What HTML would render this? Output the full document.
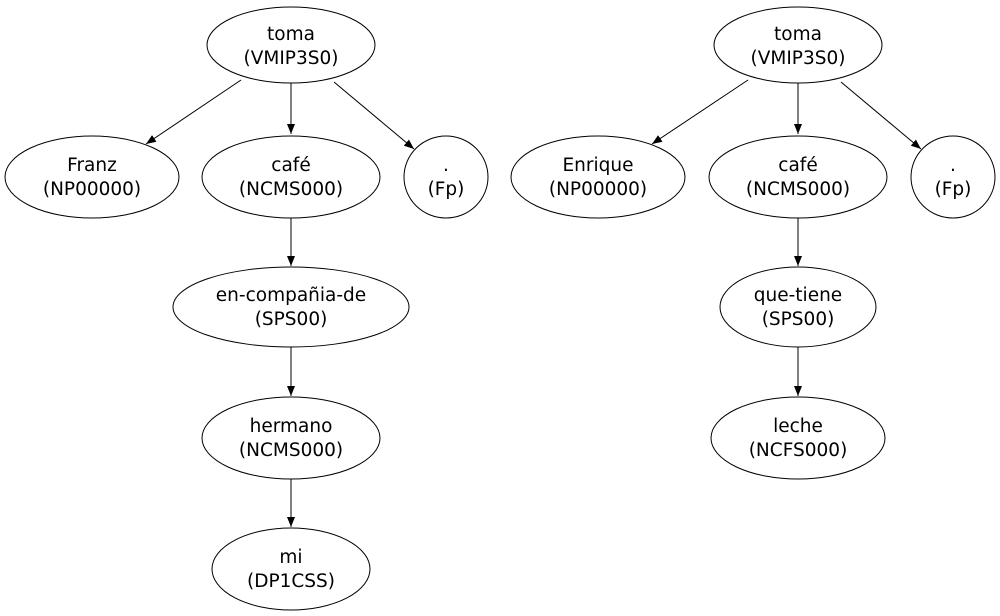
<!DOCTYPE html>
<html><head><meta charset="utf-8"><style>
html,body{margin:0;padding:0;background:#fff;}
svg{display:block;}
text{font-family:"DejaVu Sans","Liberation Sans",sans-serif;font-size:18.5px;fill:#000;text-anchor:middle;}
ellipse{fill:none;stroke:#000;stroke-width:1;}
line{stroke:#000;stroke-width:1;}
</style></head><body>
<svg width="1000" height="616" viewBox="0 0 1000 616" xmlns="http://www.w3.org/2000/svg">
<defs><marker id="a" markerWidth="10" markerHeight="8" refX="10" refY="4" orient="auto" markerUnits="userSpaceOnUse"><path d="M0,0 L10,4 L0,8 z" fill="#000"/></marker></defs>
<g transform="translate(0,1)">
<ellipse cx="291" cy="44" rx="84" ry="38"/><text x="291" y="39">toma</text><text x="291" y="63">(VMIP3S0)</text>
<ellipse cx="92" cy="176" rx="87" ry="41"/><text x="92" y="170">Franz</text><text x="92" y="194">(NP00000)</text>
<ellipse cx="291" cy="176" rx="89" ry="41"/><text x="291" y="170">café</text><text x="291" y="194">(NCMS000)</text>
<ellipse cx="446" cy="176" rx="42" ry="41"/><text x="446" y="170">.</text><text x="446" y="194">(Fp)</text>
<ellipse cx="291" cy="306" rx="118" ry="40"/><text x="291" y="300">en-compañia-de</text><text x="291" y="324">(SPS00)</text>
<ellipse cx="291" cy="437" rx="89" ry="41"/><text x="291" y="431">hermano</text><text x="291" y="455">(NCMS000)</text>
<ellipse cx="291" cy="568" rx="79" ry="41"/><text x="291" y="562">mi</text><text x="291" y="586">(DP1CSS)</text>
</g>
<line x1="241" y1="80" x2="146" y2="144" marker-end="url(#a)"/>
<line x1="291" y1="83" x2="291" y2="134" marker-end="url(#a)"/>
<line x1="334" y1="82" x2="414" y2="149" marker-end="url(#a)"/>
<line x1="291" y1="218" x2="291" y2="266" marker-end="url(#a)"/>
<line x1="291" y1="347" x2="291" y2="396" marker-end="url(#a)"/>
<line x1="291" y1="479" x2="291" y2="527" marker-end="url(#a)"/>
<g transform="translate(0,1)">
<ellipse cx="798" cy="44" rx="84" ry="38"/><text x="798" y="39">toma</text><text x="798" y="63">(VMIP3S0)</text>
<ellipse cx="598" cy="176" rx="87" ry="41"/><text x="598" y="170">Enrique</text><text x="598" y="194">(NP00000)</text>
<ellipse cx="798" cy="176" rx="89" ry="41"/><text x="798" y="170">café</text><text x="798" y="194">(NCMS000)</text>
<ellipse cx="953" cy="176" rx="42" ry="41"/><text x="953" y="170">.</text><text x="953" y="194">(Fp)</text>
<ellipse cx="798" cy="306" rx="78" ry="40"/><text x="798" y="300">que-tiene</text><text x="798" y="324">(SPS00)</text>
<ellipse cx="798" cy="437" rx="87" ry="41"/><text x="798" y="431">leche</text><text x="798" y="455">(NCFS000)</text>
</g>
<line x1="748" y1="80" x2="652" y2="144" marker-end="url(#a)"/>
<line x1="798" y1="83" x2="798" y2="134" marker-end="url(#a)"/>
<line x1="841" y1="82" x2="921" y2="149" marker-end="url(#a)"/>
<line x1="798" y1="218" x2="798" y2="266" marker-end="url(#a)"/>
<line x1="798" y1="347" x2="798" y2="396" marker-end="url(#a)"/>
</svg>
</body></html>
